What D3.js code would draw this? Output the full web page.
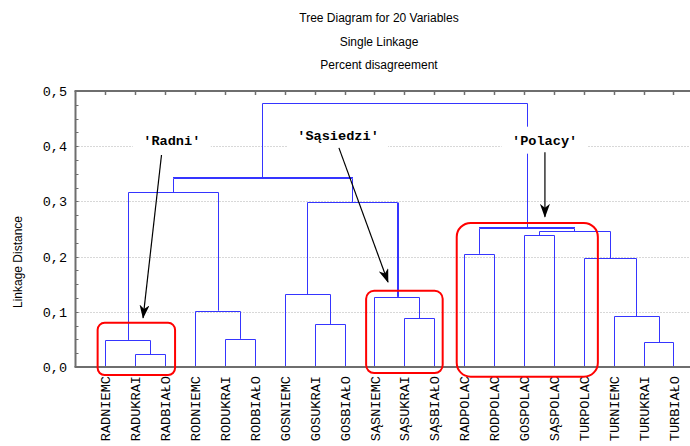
<!DOCTYPE html>
<html lang="en">
<head>
<meta charset="UTF-8">
<title>Tree Diagram for 20 Variables</title>
<script src="https://d3js.org/d3.v7.min.js"></script>
<style>
    html, body { margin: 0; padding: 0; overflow: hidden; background: #fff; }
    svg { display: block; }
    .title { font-family: "Liberation Sans", Arial, sans-serif; font-size: 12px; fill: #000; }
    .mono { font-family: "Liberation Mono", "Courier New", monospace; fill: #000; }
</style>
</head>
<body>
<svg id="chart" width="690" height="446"></svg>
<script>
// leaves of the tree, left to right
const leaves = [
    "RADNIEMC", "RADUKRAI", "RADBIAŁO", "RODNIEMC", "RODUKRAI", "RODBIAŁO",
    "GOSNIEMC", "GOSUKRAI", "GOSBIAŁO", "SĄSNIEMC", "SĄSUKRAI", "SĄSBIAŁO",
    "RADPOLAC", "RODPOLAC", "GOSPOLAC", "SĄSPOLAC", "TURPOLAC",
    "TURNIEMC", "TURUKRAI", "TURBIAŁO"
];
// merges: [left, right, linkage distance]; ids >= 20 are earlier merges (20 + row)
const merges = [
    [1, 2, 0.023],    // 20
    [0, 20, 0.049],   // 21
    [4, 5, 0.051],    // 22
    [3, 22, 0.102],   // 23
    [7, 8, 0.078],    // 24
    [6, 24, 0.132],   // 25
    [10, 11, 0.088],  // 26
    [9, 26, 0.127],   // 27
    [21, 23, 0.317],  // 28
    [25, 27, 0.299],  // 29
    [28, 29, 0.342],  // 30
    [18, 19, 0.045],  // 31
    [17, 31, 0.092],  // 32
    [16, 32, 0.197],  // 33
    [12, 13, 0.205],  // 34
    [14, 15, 0.239],  // 35
    [35, 33, 0.2455], // 36
    [34, 36, 0.2515], // 37
    [30, 37, 0.479]   // 38
];
const yTicks = [0, 0.1, 0.2, 0.3, 0.4, 0.5];
const titles = ["Tree Diagram for 20 Variables", "Single Linkage", "Percent disagreement"];
const yLabel = "Linkage Distance";
const notes = ["'Radni'", "'Sąsiedzi'", "'Polacy'"];

// ---- layout ----
const svg = d3.select("#chart");
const plotLeft = 75.5, plotTop = 91, plotBottom = 367, plotRight = 690;
const x = d3.scaleLinear().domain([0, leaves.length + 1]).range([plotLeft, plotLeft + 29.9 * (leaves.length + 1)]);
const y = d3.scaleLinear().domain([0, 0.5]).range([plotBottom, plotTop]);
const blue = "#3535ff";

// titles
svg.selectAll(".title").data(titles).enter().append("text")
    .attr("class", "title")
    .attr("x", 379).attr("y", (d, i) => 22 + i * 23.5)
    .attr("text-anchor", "middle")
    .text(d => d);

// y label
svg.append("text").attr("class", "title")
    .attr("transform", "translate(22,262) rotate(-90)")
    .attr("text-anchor", "middle")
    .text(yLabel);

// gridlines
svg.append("g").selectAll("line").data(yTicks.filter(t => t > 0 && t < 0.5)).enter().append("line")
    .attr("x1", plotLeft).attr("x2", plotRight)
    .attr("y1", d => Math.round(y(d)) + 0.5).attr("y2", d => Math.round(y(d)) + 0.5)
    .attr("stroke", "#b0b0b0").attr("stroke-dasharray", "1,2");

// dendrogram
const nodeX = leaves.map((d, i) => x(i + 1));
const nodeH = leaves.map(() => 0);
const boldHoriz = [10, 17], boldRightLeg = [9];
const dg = svg.append("g").attr("fill", "none").attr("stroke", blue);
merges.forEach((m, i) => {
    const [a, b, h] = m;
    const xa = nodeX[a], xb = nodeX[b];
    const yy = Math.round(y(h)) + 0.5;
    dg.append("path")
        .attr("d", `M${Math.round(xa) + 0.5},${y(nodeH[a])}V${yy}H${Math.round(xb) + 0.5}V${y(nodeH[b])}`)
        .attr("stroke-width", 1);
    if (boldHoriz.includes(i)) {
        dg.append("line").attr("x1", Math.round(xa)).attr("x2", Math.round(xb) + 1)
            .attr("y1", yy - 1).attr("y2", yy - 1).attr("stroke-width", 1.2);
    }
    if (boldRightLeg.includes(i)) {
        dg.append("line").attr("x1", Math.round(xb) + 1.5).attr("x2", Math.round(xb) + 1.5)
            .attr("y1", yy).attr("y2", y(nodeH[b])).attr("stroke-width", 1);
    }
    nodeX.push((xa + xb) / 2);
    nodeH.push(h);
});

// axes frame
const axisCol = "#6e6e6e";
const ax = svg.append("g").attr("stroke", axisCol);
ax.append("line").attr("x1", plotLeft).attr("x2", plotLeft).attr("y1", plotTop).attr("y2", plotBottom).attr("stroke-width", 2);
ax.append("line").attr("x1", plotLeft - 1).attr("x2", plotRight).attr("y1", plotTop).attr("y2", plotTop).attr("stroke-width", 2);
ax.append("line").attr("x1", plotLeft - 1).attr("x2", plotRight).attr("y1", plotBottom).attr("y2", plotBottom).attr("stroke-width", 2);
// top ticks at leaf positions
ax.selectAll(".tt").data(leaves).enter().append("line")
    .attr("x1", (d, i) => Math.round(x(i + 1)) + 0.5).attr("x2", (d, i) => Math.round(x(i + 1)) + 0.5)
    .attr("y1", plotTop).attr("y2", plotTop + 4).attr("stroke-width", 1.5);
// left ticks, minor every 0.025
ax.selectAll(".lt").data(d3.range(0, 0.5001, 0.025)).enter().append("line")
    .attr("x1", plotLeft).attr("x2", plotLeft + 3)
    .attr("y1", d => Math.round(y(d)) + 0.5).attr("y2", d => Math.round(y(d)) + 0.5)
    .attr("stroke-width", 1);

// y tick labels
svg.selectAll(".yl").data(yTicks).enter().append("text")
    .attr("class", "mono")
    .attr("x", 67).attr("y", d => y(d) + 5)
    .attr("text-anchor", "end")
    .style("font-size", "13.5px")
    .text(d => d3.format(".1f")(d).replace(".", ","));

// x labels, rotated
svg.selectAll(".xl").data(leaves).enter().append("text")
    .attr("class", "mono")
    .style("font-size", "13.6px")
    .attr("transform", (d, i) => `translate(${x(i + 1) + 5},${plotBottom + 9}) rotate(-90)`)
    .attr("text-anchor", "end")
    .text(d => d);

// annotations: text centre, arrow start/end in data units
const noteSpec = [
    {tx: 3.22, ty: 0.409, bw: 78, ax0: 2.876, ay0: 0.384, ax1: 2.26, ay1: 0.089},
    {tx: 8.78, ty: 0.418, bw: 100, ax0: 8.81, ay0: 0.397, ax1: 10.45, ay1: 0.154},
    {tx: 15.69, ty: 0.410, bw: 86, ax0: 15.70, ay0: 0.389, ax1: 15.70, ay1: 0.272}
];
const boxes = [
    {x0: 0.74, x1: 3.33, y0: 0.080, y1: -0.0145, r: 7},
    {x0: 9.72, x1: 12.28, y0: 0.138, y1: -0.011, r: 8},
    {x0: 12.75, x1: 17.47, y0: 0.261, y1: -0.0176, r: 14}
];

svg.append("defs").append("marker")
    .attr("id", "head").attr("markerUnits", "userSpaceOnUse")
    .attr("viewBox", "0 0 14 10").attr("refX", 13).attr("refY", 5)
    .attr("markerWidth", 14).attr("markerHeight", 10).attr("orient", "auto")
    .append("path").attr("d", "M0,0 L14,5 L0,10 L4,5 Z").attr("fill", "#000");

noteSpec.forEach((n, i) => {
    svg.append("rect")
        .attr("x", x(n.tx) - n.bw / 2).attr("y", y(n.ty) - 14)
        .attr("width", n.bw).attr("height", 27)
        .attr("fill", "#fff");
    svg.append("text").attr("class", "mono")
        .style("font-size", "13.6px").style("font-weight", "bold")
        .attr("x", x(n.tx)).attr("y", y(n.ty) + 4)
        .attr("text-anchor", "middle")
        .text(notes[i]);
    svg.append("line")
        .attr("x1", x(n.ax0)).attr("y1", y(n.ay0))
        .attr("x2", x(n.ax1)).attr("y2", y(n.ay1))
        .attr("stroke", "#000").attr("stroke-width", 1.2)
        .attr("marker-end", "url(#head)");
});

svg.selectAll(".box").data(boxes).enter().append("rect")
    .attr("x", d => x(d.x0)).attr("y", d => y(d.y0))
    .attr("width", d => x(d.x1) - x(d.x0)).attr("height", d => y(d.y1) - y(d.y0))
    .attr("rx", d => d.r).attr("ry", d => d.r)
    .attr("fill", "none").attr("stroke", "#ff0000").attr("stroke-width", 2);
</script>
</body>
</html>
